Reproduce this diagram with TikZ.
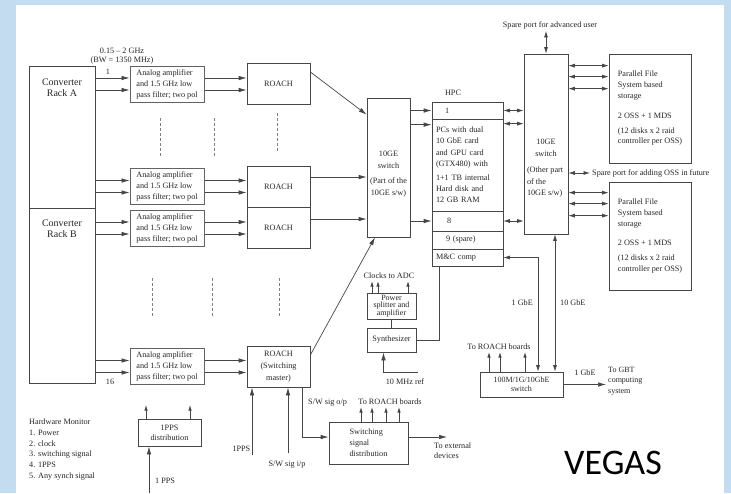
\documentclass[tikz,border=0pt]{standalone}
\usepackage{fontspec}
\setmainfont{Liberation Serif}
\newfontfamily\slidefont{Carlito}
\usetikzlibrary{arrows.meta}

\definecolor{slideblue}{RGB}{196,220,240}
\definecolor{ink}{RGB}{70,70,70}

\begin{document}
\begin{tikzpicture}[x=1pt, y=-1pt,
    every node/.style={font=\fontsize{8.2}{10.5}\selectfont, text=black!85, inner sep=2pt},
    box/.style={draw=ink, line width=0.7pt, inner sep=0pt},
    ampbox/.style={box, draw=ink!85, line width=1pt, minimum width=74pt, minimum height=36pt, align=left, font=\fontsize{8.2}{11}\selectfont},
    roachbox/.style={box, minimum width=63pt, minimum height=41pt},
    hpcrow/.style={box, minimum width=71pt, text width=63pt, align=left, inner xsep=4pt},
    link/.style={draw=ink, line width=0.7pt},
    arr/.style={link, -{Latex[length=8pt,width=4.5pt]}},
    sarr/.style={link, -{Latex[length=5.5pt,width=3.5pt]}},
    darr/.style={link, {Latex[length=6.5pt,width=4pt]}-{Latex[length=6.5pt,width=4pt]}},
    dots/.style={draw=ink!70, line width=0.7pt, dash pattern=on 3pt off 2pt}]

    \useasboundingbox (0,0) rectangle (731,493);
    \fill[slideblue] (0,0) rectangle (731,493);
    \fill[white] (16,5) rectangle (724,493);

    % converter racks
    \node[box, minimum width=66pt, minimum height=142pt,
        label={[anchor=north, yshift=-13pt, align=center, inner sep=0pt, font=\fontsize{10}{11.5}\selectfont]north:{Converter\\Rack A}}] (rackA) at (62,137) {};
    \node[box, minimum width=66pt, minimum height=175pt,
        label={[anchor=north, yshift=-12pt, align=center, inner sep=0pt, font=\fontsize{10}{11.5}\selectfont]north:{Converter\\Rack B}}] (rackB) at (62,295.5) {};
    \node[align=center, font=\fontsize{8.2}{9.5}\selectfont] (band) at (122,56) {0.15 -- 2 GHz\\(BW = 1350 MHz)};
    \node (chA) at (108,72) {1};
    \node (chB) at (110,382) {16};

    % amplifiers and ROACH boards
    \foreach \n/\y in {1/84, 2/186.5, 3/228, 4/366.5}
        \node[ampbox] (amp\n) at (167,\y) {Analog amplifier\\and 1.5 GHz low\\pass filter; two pol};
    \foreach \n/\y in {1/83.5, 2/187, 3/228}
        \node[roachbox] (roach\n) at (278.5,\y) {ROACH};
    \node[roachbox, align=center, font=\fontsize{8.2}{12}\selectfont] (roachM) at (278.5,366.5) {ROACH\\(Switching\\master)};

    \foreach \n/\r in {1/rackA, 2/rackA, 3/rackB, 4/rackB}
        \foreach \s in {6pt,-6pt}
            \draw[arr] ([yshift=\s]amp\n.west -| \r.east) -- ([yshift=\s]amp\n.west);
    \foreach \n/\t in {1/roach1, 2/roach2, 3/roach3, 4/roachM}
        \foreach \s in {6pt,-6pt}
            \draw[arr] ([yshift=\s]amp\n.east) -- ([yshift=\s]amp\n.east -| \t.west);

    \draw[dots] (160,118) -- (160,157);
    \draw[dots] (214,118) -- (214,157);
    \draw[dots] (277,113) -- (277,152);
    \draw[dots] (152,278) -- (152,317);
    \draw[dots] (212,278) -- (212,317);
    \draw[dots] (279,278) -- (279,317);

    % 10GE switch, first part
    \node[box, minimum width=43pt, minimum height=139pt,
        label={[anchor=center, yshift=-6.5pt, align=center, font=\fontsize{8.2}{12}\selectfont]center:{10GE\\switch\\[3pt](Part of the\\10GE s/w)}}] (sw1) at (388.5,167.5) {};
    \draw[arr] ([yshift=11.5pt]roach1.east) -- ([yshift=-17pt]sw1.north west);
    \draw[arr] ([yshift=10pt]roach2.east) -- ([yshift=10pt]roach2.east -| sw1.west);
    \draw[arr] ([yshift=9pt]roach3.east) -- ([yshift=9pt]roach3.east -| sw1.west);
    \draw[arr] ([yshift=11.5pt]roachM.east) -- ([xshift=-13.5pt]sw1.south);

    % HPC
    \node (hpclbl) at (453,93) {HPC};
    \node[hpcrow, minimum height=17pt] (hpc1) at (467.5,110.5) {\hspace*{9pt}1};
    \node[hpcrow, minimum height=92pt, font=\fontsize{8.2}{11.2}\selectfont] (hpcpc) at (467.5,165)
        {PCs with dual\\10 GbE card\\and GPU card\\(GTX480) with\\[3pt]1+1 TB internal\\Hard disk and\\12 GB RAM};
    \node[hpcrow, minimum height=20pt] (hpc8) at (467.5,221) {\hspace*{11pt}8};
    \node[hpcrow, minimum height=18pt] (hpc9) at (467.5,240) {\hspace*{10pt}9 (spare)};
    \node[hpcrow, minimum height=17pt] (hpcmc) at (467.5,257.5) {M\&C comp};

    \draw[arr] (sw1.east |- hpc1.west) -- (hpc1.west);
    \draw[arr] ([yshift=-6pt]sw1.east |- hpcpc.north west) -- ([yshift=-6pt]hpcpc.north west);
    \draw[arr] (sw1.east |- hpc8.west) -- (hpc8.west);

    % 10GE switch, other part
    \node[box, minimum width=44pt, minimum height=180pt,
        label={[anchor=center, yshift=-24.5pt, align=left, font=\fontsize{8.2}{11.5}\selectfont]center:{\makebox[38pt]{10GE}\\\makebox[38pt]{switch}\\[5pt](Other part\\of the\\10GE s/w)}}] (sw2) at (546,144) {};
    \draw[darr] (hpc1.east) -- (hpc1.east -| sw2.west);
    \draw[darr] ([yshift=-5pt]hpcpc.north east) -- ([yshift=-5pt]hpcpc.north east -| sw2.west);
    \draw[darr] (hpc8.east) -- (hpc8.east -| sw2.west);

    \node (spareU) at (550,25) {Spare port for advanced user};
    \draw[darr] (sw2.north |- spareU.south) -- (sw2.north);
    \node[anchor=west] (spareO) at (590,173) {Spare port for adding OSS in future};
    \draw[darr] (sw2.east |- spareO.west) -- (spareO.west);

    % storage
    \node[box, minimum width=82pt, minimum height=109pt, align=left, font=\fontsize{8.2}{10.8}\selectfont] (store1) at (650,108.5)
        {Parallel File\\System based\\storage\\[9pt]2 OSS + 1 MDS\\[4pt](12 disks x 2 raid\\controller per OSS)};
    \node[box, minimum width=82pt, minimum height=108pt, align=left, font=\fontsize{8.2}{10.8}\selectfont] (store2) at (650,236)
        {Parallel File\\System based\\storage\\[9pt]2 OSS + 1 MDS\\[4pt](12 disks x 2 raid\\controller per OSS)};
    \foreach \s in {12pt,23pt,35pt}
        \draw[darr] ([yshift=-\s]sw2.east |- store1.north west) -- ([yshift=-\s]store1.north west);
    \foreach \s in {11pt,22pt,34pt}
        \draw[darr] ([yshift=-\s]sw2.east |- store2.north west) -- ([yshift=-\s]store2.north west);

    % clocks
    \node (clk) at (389,276) {Clocks to ADC};
    \node[box, minimum width=49pt, minimum height=26pt, align=center, font=\fontsize{8}{7.5}\selectfont] (psplit) at (391.5,306) {Power\\splitter and\\amplifier};
    \node[box, minimum width=49pt, minimum height=24pt] (synth) at (391.5,340) {Synthesizer};
    \draw[link] (psplit) -- (synth);
    \foreach \dx in {-19.5pt,-13.5pt,16.5pt}
        \draw[sarr] ([xshift=\dx]psplit.north) -- ([xshift=\dx]psplit.north |- clk.south);
    \draw[link] ([xshift=8pt]hpcmc.south west) |- (synth.east);
    \coordinate (mhz) at (418,372);
    \node (mhzlbl) at (405,382) {10 MHz ref};
    \draw[arr] (mhz) -| ([xshift=-8pt]synth.south);

    % 1G network switch
    \node[box, minimum width=83pt, minimum height=25pt, align=center, font=\fontsize{8}{9}\selectfont] (gbsw) at (521.5,384.5) {100M/1G/10GbE\\switch};
    \draw[darr] ([xshift=16.5pt]gbsw.north) |- (hpcmc.east);
    \draw[darr] ([xshift=33.5pt]gbsw.north) -- ([xshift=33.5pt]gbsw.north |- sw2.south);
    \node[anchor=east] (gb1) at (535,303) {1 GbE};
    \node[anchor=west] (gb10) at (558,303) {10 GbE};
    \node (toR2) at (499,347) {To ROACH boards};
    \foreach \dx in {-32.5pt,-21.5pt,3.5pt}
        \draw[sarr] ([xshift=\dx]gbsw.north) -- ([xshift=\dx]gbsw.north |- toR2.south);
    \node[anchor=west, align=left, font=\fontsize{8}{10.5}\selectfont] (gbt) at (606,381) {To GBT\\computing\\system};
    \draw[arr] (gbsw.east) -- (gbsw.east -| gbt.west);
    \node (gbo) at (585,373) {1 GbE};

    % switching signal
    \node[box, minimum width=79pt, minimum height=42pt, align=left, font=\fontsize{8.2}{11}\selectfont] (swd) at (368.5,443) {Switching\\signal\\distribution};
    \draw[arr] ([xshift=23.5pt]roachM.south) |- ([yshift=6pt]swd.west);
    \node[anchor=west] (swo) at (306,403) {S/W sig o/p};
    \node (toR1) at (390,402) {To ROACH boards};
    \foreach \dx in {-7.5pt,3.5pt,17.5pt,30.5pt}
        \draw[sarr] ([xshift=\dx]swd.north) -- ([xshift=\dx]swd.north |- toR1.south);
    \coordinate (extc) at (447,437);
    \draw[arr] ([yshift=6pt]swd.east) -- (extc);
    \node[anchor=north west, align=left, font=\fontsize{8.2}{10}\selectfont] (extlbl) at (432,441) {To external\\devices};

    \coordinate (ppsin) at (252,455);
    \coordinate (swin) at (288,453);
    \draw[arr] (ppsin) -- (ppsin |- roachM.south);
    \draw[arr] (swin) -- (swin |- roachM.south);
    \node[anchor=east, inner sep=0.5pt] (ppslbl) at (251,449) {1PPS};
    \node (swilbl) at (287,465) {S/W sig i/p};

    % 1PPS
    \node[box, minimum width=63pt, minimum height=27pt, align=center, font=\fontsize{8.2}{10}\selectfont] (ppsd) at (169.5,432.5) {1PPS\\distribution};
    \coordinate (ppstop) at (0,405);
    \foreach \dx in {-23.5pt,20.5pt}
        \draw[sarr] ([xshift=\dx]ppsd.north) -- ([xshift=\dx]ppsd.north |- ppstop);
    \coordinate (ppsbot) at (149,493);
    \draw[arr] (ppsbot) -- (ppsbot |- ppsd.south);
    \node[anchor=west] (ppsin1) at (153,481) {1 PPS};

    \node[anchor=north west, align=left, font=\fontsize{8.2}{10.7}\selectfont] (hwmon) at (27,417)
        {Hardware Monitor\\1. Power\\2. clock\\3. switching signal\\4. 1PPS\\5. Any synch signal};

    \node[font=\slidefont\fontsize{36}{40}\selectfont, text=black] (vegas) at (613,463) {VEGAS};
\end{tikzpicture}
\end{document}
